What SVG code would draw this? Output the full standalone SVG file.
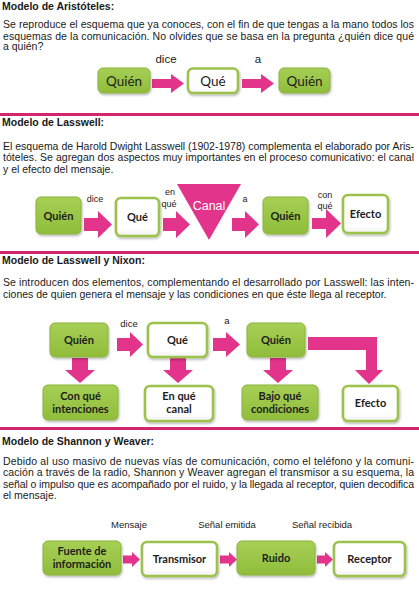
<svg xmlns="http://www.w3.org/2000/svg" width="419" height="593" viewBox="0 0 419 593">
<defs>
<linearGradient id="gg" x1="0" y1="0" x2="0" y2="1"><stop offset="0" stop-color="#a6cf55"/><stop offset="1" stop-color="#90bd3b"/></linearGradient>
<linearGradient id="wg" x1="0" y1="0" x2="0" y2="1"><stop offset="0" stop-color="#ffffff"/><stop offset="0.8" stop-color="#ffffff"/><stop offset="1" stop-color="#f0f0f0"/></linearGradient>
<filter id="sh" x="-20%" y="-20%" width="140%" height="150%"><feDropShadow dx="0.8" dy="1.5" stdDeviation="1" flood-color="#000" flood-opacity="0.3"/></filter>
<style>
.t{font-family:"Liberation Sans",Arial,sans-serif;font-size:10.5px;fill:#1a1a1a}
.h{font-family:"Liberation Sans",Arial,sans-serif;font-size:10.5px;font-weight:bold;fill:#1a1a1a}
.lb{font-family:"Liberation Sans",Arial,sans-serif;fill:#1a1a1a;text-anchor:middle}
.g{fill:url(#gg);stroke:#8cb33c;stroke-width:1;filter:url(#sh)}
.w{fill:url(#wg);stroke:#9dc24c;stroke-width:2.6;filter:url(#sh)}
.n{font-family:Lato,"Open Sans",sans-serif;fill:#1d1d1d;text-anchor:middle}
.nb{font-family:Lato,"Open Sans",sans-serif;font-weight:bold;font-size:11px;fill:#1d1d1d;text-anchor:middle}
.arr{fill:#e2348a}
.sep{fill:#d4246e}
</style>
</defs>

<!-- separators -->
<rect class="sep" x="0" y="113" width="419" height="3"/>
<rect class="sep" x="0" y="251" width="419" height="3"/>
<rect class="sep" x="0" y="427" width="419" height="3"/>

<!-- Section 1 text -->
<text class="h" x="2" y="10">Modelo de Aristóteles:</text>
<text class="t" x="3" y="28" textLength="411" lengthAdjust="spacing">Se reproduce el esquema que ya conoces, con el fin de que tengas a la mano todos los</text>
<text class="t" x="3" y="39.5" textLength="411" lengthAdjust="spacing">esquemas de la comunicación.  No olvides que se basa en la pregunta ¿quién dice qué</text>
<text class="t" x="3" y="50">a quién?</text>

<!-- Section 2 text -->
<text class="h" x="2" y="126">Modelo de Lasswell:</text>
<text class="t" x="3" y="149.5" textLength="411" lengthAdjust="spacing">El esquema de Harold Dwight Lasswell (1902-1978) complementa el elaborado por Aris-</text>
<text class="t" x="3" y="161" textLength="411" lengthAdjust="spacing">tóteles.  Se agregan dos aspectos muy importantes en el proceso comunicativo: el canal</text>
<text class="t" x="3" y="172.5">y el efecto del mensaje.</text>

<!-- Section 3 text -->
<text class="h" x="2" y="264">Modelo de Lasswell y Nixon:</text>
<text class="t" x="3" y="286" textLength="411" lengthAdjust="spacing">Se introducen dos elementos, complementando el desarrollado por Lasswell: las inten-</text>
<text class="t" x="3" y="297.5">ciones de quien genera el mensaje y las condiciones en que éste llega al receptor.</text>

<!-- Section 4 text -->
<text class="h" x="2" y="444.5">Modelo de Shannon y Weaver:</text>
<text class="t" x="3" y="464.5" textLength="411" lengthAdjust="spacing">Debido al uso masivo de nuevas vías de comunicación, como el teléfono y la comuni-</text>
<text class="t" x="3" y="476" textLength="411" lengthAdjust="spacing">cación a través de la radio, Shannon y Weaver agregan el transmisor a su esquema, la</text>
<text class="t" x="3" y="487.5" textLength="411" lengthAdjust="spacing">señal o impulso que es acompañado por el ruido, y la llegada al receptor, quien decodifica</text>
<text class="t" x="3" y="499">el mensaje.</text>

<!-- connectors -->
<g id="connectors">
<!-- s1 -->
<path class="arr" d="M152 79 H171 V74 L184 83.5 L171 93 V88 H152 Z"/>
<path class="arr" d="M242 79 H261 V74 L274 83.5 L261 93 V88 H242 Z"/>
<!-- s2 -->
<path class="arr" d="M84 218 H98 V211 L112 224.5 L98 238 V231 H84 Z"/>
<path class="arr" d="M163 218 H176 V211 L190 224.5 L176 238 V231 H163 Z"/>
<path class="arr" d="M232 218 H245 V211 L259 224.5 L245 238 V231 H232 Z"/>
<path class="arr" d="M312 218 H326 V209 L341 223.5 L326 238 V229 H312 Z"/>
<!-- s3 -->
<path class="arr" d="M117 338 H130 V332 L143 344.5 L130 357 V351 H117 Z"/>
<path class="arr" d="M213 338 H226 V332 L240 344.5 L226 357 V351 H213 Z"/>
<path class="arr" d="M72 358 H88 V370 H95 L80 383 L65 370 H72 Z"/>
<path class="arr" d="M170 358 H186 V370 H193 L178 383 L163 370 H170 Z"/>
<path class="arr" d="M270 358 H286 V370 H293 L278 383 L263 370 H270 Z"/>
<path class="arr" d="M308 337 H377 V370 H383 L369 384 L355 370 H366 V350 H308 Z"/>
<!-- s4 -->
<path class="arr" d="M123 555.5 H132 V552 L140 559.5 L132 567 V563.5 H123 Z"/>
<path class="arr" d="M220 555.5 H229 V552 L237 559.5 L229 567 V563.5 H220 Z"/>
<path class="arr" d="M317 555.5 H325 V552 L333 559.5 L325 567 V563.5 H317 Z"/>
</g>

<!-- Section 1 nodes -->
<text class="lb" x="166" y="63" font-size="11.5">dice</text>
<text class="lb" x="258" y="63" font-size="11.5">a</text>
<g id="s1-quien1"><rect class="g" x="98" y="68" width="52" height="25" rx="5"/><text class="n" x="124" y="85.5" font-size="13.5">Quién</text></g>
<g id="s1-que"><rect class="w" x="188" y="68.5" width="50" height="24.5" rx="5"/><text class="n" x="213" y="86" font-size="13.5">Qué</text></g>
<g id="s1-quien2"><rect class="g" x="279" y="68" width="51" height="25" rx="5"/><text class="n" x="304.5" y="85.5" font-size="13.5">Quién</text></g>

<!-- Section 2 nodes -->
<text class="lb" x="95" y="201.5" font-size="9">dice</text>
<text class="lb" x="170" y="195" font-size="9">en</text>
<text class="lb" x="169" y="206.5" font-size="9">qué</text>
<text class="lb" x="245" y="202" font-size="9">a</text>
<text class="lb" x="325" y="198" font-size="9">con</text>
<text class="lb" x="325" y="208.5" font-size="9">qué</text>
<g id="s2-quien1"><rect class="g" x="36" y="197" width="45" height="37" rx="5"/><text class="nb" x="58.5" y="220">Quién</text></g>
<g id="s2-que"><rect class="w" x="116" y="198" width="43" height="38" rx="5"/><text class="nb" x="137.5" y="221">Qué</text></g>
<g id="s2-canal"><polygon points="177,184 241,184 209,240" fill="#e2348a"/><text x="209" y="210" font-family="Liberation Sans,Arial,sans-serif" font-size="12.5" fill="#ffffff" text-anchor="middle">Canal</text></g>
<g id="s2-quien2"><rect class="g" x="263" y="197" width="45" height="37" rx="5"/><text class="nb" x="285.5" y="220">Quién</text></g>
<g id="s2-efecto"><rect class="w" x="343" y="195" width="45" height="38" rx="5"/><text class="nb" x="365.5" y="218">Efecto</text></g>

<!-- Section 3 nodes -->
<text class="lb" x="129" y="327" font-size="9.5">dice</text>
<text class="lb" x="227" y="324" font-size="9.5">a</text>
<g id="s3-quien1"><rect class="g" x="50" y="323" width="58" height="34" rx="5"/><text class="nb" x="79" y="344">Quién</text></g>
<g id="s3-que"><rect class="w" x="148" y="323" width="59" height="34" rx="5"/><text class="nb" x="177.5" y="344">Qué</text></g>
<g id="s3-quien2"><rect class="g" x="247" y="323" width="58" height="34" rx="5"/><text class="nb" x="276" y="344">Quién</text></g>
<g id="s3-intenciones"><rect class="g" x="43" y="385" width="75" height="35" rx="5"/><text class="nb" x="80.5" y="400">Con qué</text><text class="nb" x="80.5" y="412.5">intenciones</text></g>
<g id="s3-canal"><rect class="w" x="145" y="386" width="68" height="35" rx="5"/><text class="nb" x="179" y="400">En qué</text><text class="nb" x="179" y="412.5">canal</text></g>
<g id="s3-condiciones"><rect class="g" x="242" y="385" width="76" height="35" rx="5"/><text class="nb" x="280" y="400">Bajo qué</text><text class="nb" x="280" y="412.5">condiciones</text></g>
<g id="s3-efecto"><rect class="w" x="343" y="386" width="55" height="35" rx="5"/><text class="nb" x="370.5" y="407">Efecto</text></g>

<!-- Section 4 nodes -->
<text class="lb" x="129" y="527.5" font-size="9.5">Mensaje</text>
<text class="lb" x="227" y="527.5" font-size="9.5">Señal emitida</text>
<text class="lb" x="322" y="527.5" font-size="9.5">Señal recibida</text>
<g id="s4-fuente"><rect class="g" x="43" y="541" width="78" height="34" rx="5"/><text class="nb" x="82" y="555">Fuente de</text><text class="nb" x="82" y="568">información</text></g>
<g id="s4-transmisor"><rect class="w" x="142" y="542" width="75" height="34" rx="5"/><text class="nb" x="179.5" y="563">Transmisor</text></g>
<g id="s4-ruido"><rect class="g" x="237" y="541" width="78" height="34" rx="5"/><text class="nb" x="276" y="562">Ruido</text></g>
<g id="s4-receptor"><rect class="w" x="334" y="542" width="71" height="34" rx="5"/><text class="nb" x="369.5" y="563">Receptor</text></g>
</svg>
